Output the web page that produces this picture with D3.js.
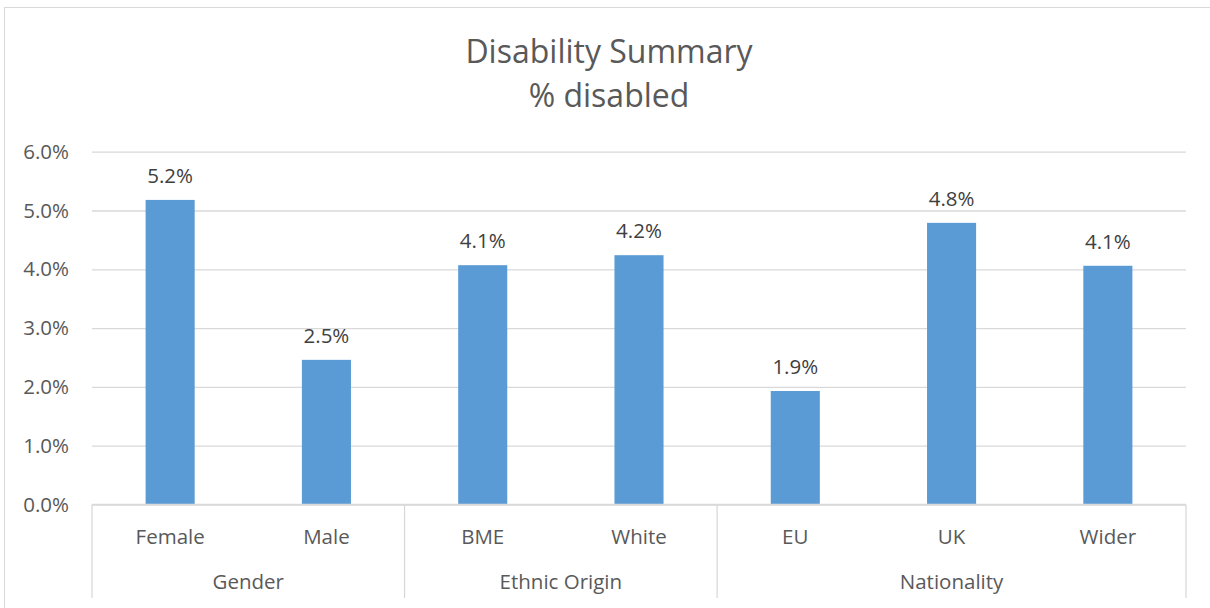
<!DOCTYPE html>
<html><head><meta charset="utf-8">
<script src="https://cdn.jsdelivr.net/npm/d3@7"></script>
<style>body{margin:0;background:#fff}svg{display:block}text{font-family:"Open Sans",sans-serif}</style>
</head><body><svg id="c" width="1210" height="608"></svg>
<script>
const categories = ["Female","Male","BME","White","EU","UK","Wider"];
const groups = ["Gender","Gender","Ethnic Origin","Ethnic Origin","Nationality","Nationality","Nationality"];
const values = [0.0518,0.0246,0.0407,0.0424,0.0193,0.0479,0.0406];
const labels = ["5.2%","2.5%","4.1%","4.2%","1.9%","4.8%","4.1%"];
const yTicks = [0,0.01,0.02,0.03,0.04,0.05,0.06];

const svg = d3.select("#c");
const pLeft=92, pRight=1186, pTop=151.7, pBottom=504.5;
const x = d3.scaleBand().domain(categories).range([pLeft,pRight]).paddingInner(0.686).paddingOuter(0.343);
const y = d3.scaleLinear().domain([0,0.06]).range([pBottom,pTop]);
const fs = 20.5;

// chart border
svg.append("line").attr("x1",4).attr("x2",1210).attr("y1",7.5).attr("y2",7.5).attr("stroke","#d9d9d9");
svg.append("line").attr("x1",4.5).attr("x2",4.5).attr("y1",7).attr("y2",608).attr("stroke","#d9d9d9");

// title
svg.append("text").attr("x",609).attr("y",63).attr("text-anchor","middle").attr("fill","#595959").attr("font-size",32).text("Disability Summary");
svg.append("text").attr("x",609).attr("y",107).attr("text-anchor","middle").attr("fill","#595959").attr("font-size",32).text("% disabled");

// grid
const yAxis = d3.axisLeft(y).tickValues(yTicks).tickFormat(d3.format(".1%")).tickSize(-(pRight-pLeft)).tickPadding(23);
const g = svg.append("g").attr("transform",`translate(${pLeft},0)`).call(yAxis);
g.select(".domain").remove();
g.selectAll(".tick line").attr("stroke","#d9d9d9").attr("stroke-width",1.3);
g.selectAll(".tick text").attr("fill","#595959").attr("font-size",fs).attr("font-family","Open Sans, sans-serif");

// bars
svg.selectAll("rect.bar").data(values).join("rect").attr("class","bar")
  .attr("x",(d,i)=>x(categories[i])).attr("width",x.bandwidth())
  .attr("y",d=>y(d)).attr("height",d=>y(0)-y(d)).attr("fill","#5b9bd5");

// data labels
svg.selectAll("text.dl").data(values).join("text").attr("class","dl")
  .attr("x",(d,i)=>x(categories[i])+x.bandwidth()/2).attr("y",d=>y(d)-17)
  .attr("text-anchor","middle").attr("fill","#404040").attr("font-size",fs).text((d,i)=>labels[i]);

// baseline
svg.append("line").attr("x1",pLeft).attr("x2",pRight).attr("y1",y(0)).attr("y2",y(0)).attr("stroke","#d9d9d9").attr("stroke-width",1.3);

// category labels
svg.selectAll("text.cat").data(categories).join("text").attr("class","cat")
  .attr("x",d=>x(d)+x.bandwidth()/2).attr("y",544).attr("text-anchor","middle").attr("fill","#595959").attr("font-size",fs).text(d=>d);

// groups
const uniq = [...new Set(groups)];
const step = x.step();
const bounds = uniq.map(gn=>{
  const idx = groups.map((g,i)=>g===gn?i:-1).filter(i=>i>=0);
  return {name:gn, x0:pLeft+idx[0]*step, x1:pLeft+(idx[idx.length-1]+1)*step};
});
const sepX = [pLeft, ...bounds.map(b=>b.x1)];
svg.selectAll("line.sep").data(sepX).join("line").attr("class","sep")
  .attr("x1",d=>d).attr("x2",d=>d).attr("y1",y(0)).attr("y2",598).attr("stroke","#d9d9d9").attr("stroke-width",1.3);
svg.selectAll("text.grp").data(bounds).join("text").attr("class","grp")
  .attr("x",d=>(d.x0+d.x1)/2).attr("y",589).attr("text-anchor","middle").attr("fill","#595959").attr("font-size",fs).text(d=>d.name);
</script></body></html>
